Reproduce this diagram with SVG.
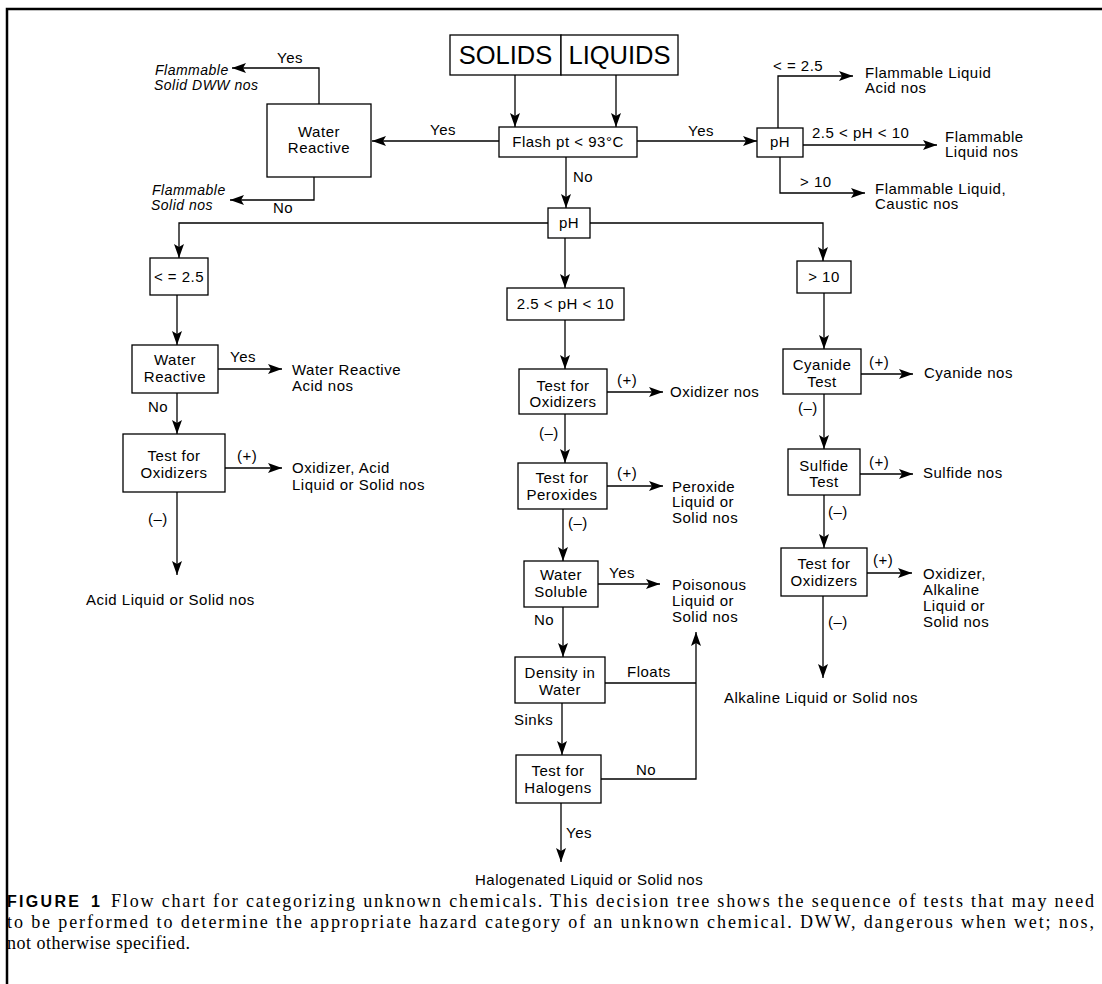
<svg xmlns="http://www.w3.org/2000/svg" width="1102" height="984" viewBox="0 0 1102 984">
<style>
.box{fill:#fff;stroke:#000;stroke-width:1.3}
.t{font-family:"Liberation Sans",Arial,sans-serif;font-size:15px;letter-spacing:0.5px;fill:#000}
.c{text-anchor:middle}
.it{font-style:italic;font-size:14px}
.big{font-size:25.5px;letter-spacing:0}
.ln{fill:none;stroke:#000;stroke-width:1.3}
.cap{font-family:"Liberation Serif","Times New Roman",serif;font-size:18px;fill:#000}
.fig{font-family:"Liberation Sans",Arial,sans-serif;font-weight:bold;font-size:16px;fill:#000}
</style>
<defs>
<marker id="ah" markerUnits="userSpaceOnUse" markerWidth="15" markerHeight="11" refX="14" refY="5" orient="auto">
<path d="M0,0 L14,5 L0,10 L3,5 z" fill="#000"/>
</marker>
</defs>
<rect width="1102" height="984" fill="#fff"/>
<path d="M7,984 V9 H1102" fill="none" stroke="#000" stroke-width="2.5"/>

<g id="connectors">
<path class="ln" d="M515,75 V127" marker-end="url(#ah)"/>
<path class="ln" d="M616,75 V127" marker-end="url(#ah)"/>
<path class="ln" d="M499,141 H372" marker-end="url(#ah)"/>
<path class="ln" d="M319,104 V68 H232" marker-end="url(#ah)"/>
<path class="ln" d="M314,177 V200 H230" marker-end="url(#ah)"/>
<path class="ln" d="M637,141 H757" marker-end="url(#ah)"/>
<path class="ln" d="M778,128 V76 H853" marker-end="url(#ah)"/>
<path class="ln" d="M803,145 H937" marker-end="url(#ah)"/>
<path class="ln" d="M780,157 V193 H865" marker-end="url(#ah)"/>
<path class="ln" d="M566,157 V208" marker-end="url(#ah)"/>
<path class="ln" d="M548,223 H179 V258" marker-end="url(#ah)"/>
<path class="ln" d="M590,223 H823 V261" marker-end="url(#ah)"/>
<path class="ln" d="M565,238 V288" marker-end="url(#ah)"/>
<path class="ln" d="M177,295 V345" marker-end="url(#ah)"/>
<path class="ln" d="M218,369 H282" marker-end="url(#ah)"/>
<path class="ln" d="M177,393 V434" marker-end="url(#ah)"/>
<path class="ln" d="M225,468 H282" marker-end="url(#ah)"/>
<path class="ln" d="M177,492 V575" marker-end="url(#ah)"/>
<path class="ln" d="M565,320 V369" marker-end="url(#ah)"/>
<path class="ln" d="M607,392 H663" marker-end="url(#ah)"/>
<path class="ln" d="M565,414 V463" marker-end="url(#ah)"/>
<path class="ln" d="M607,486 H663" marker-end="url(#ah)"/>
<path class="ln" d="M563,509 V561" marker-end="url(#ah)"/>
<path class="ln" d="M598,584 H660" marker-end="url(#ah)"/>
<path class="ln" d="M563,607 V657" marker-end="url(#ah)"/>
<path class="ln" d="M605,683 H696"/>
<path class="ln" d="M601,779 H696 V632" marker-end="url(#ah)"/>
<path class="ln" d="M562,703 V755" marker-end="url(#ah)"/>
<path class="ln" d="M561,803 V862" marker-end="url(#ah)"/>
<path class="ln" d="M824,293 V349" marker-end="url(#ah)"/>
<path class="ln" d="M861,374 H913" marker-end="url(#ah)"/>
<path class="ln" d="M824,394 V449" marker-end="url(#ah)"/>
<path class="ln" d="M860,474 H913" marker-end="url(#ah)"/>
<path class="ln" d="M824,495 V548" marker-end="url(#ah)"/>
<path class="ln" d="M867,573 H912" marker-end="url(#ah)"/>
<path class="ln" d="M823,596 V678" marker-end="url(#ah)"/>
<g class="t">
<text x="430" y="135">Yes</text>
<text x="277" y="63">Yes</text>
<text x="273" y="213">No</text>
<text x="688" y="136">Yes</text>
<text x="773" y="71">&lt; = 2.5</text>
<text x="812" y="138">2.5 &lt; pH &lt; 10</text>
<text x="800" y="187">&gt; 10</text>
<text x="573" y="182">No</text>
<text x="230" y="362">Yes</text>
<text x="148" y="412">No</text>
<text x="237" y="461">(+)</text>
<text x="148" y="524">(–)</text>
<text x="617" y="385">(+)</text>
<text x="539" y="438">(–)</text>
<text x="617" y="478">(+)</text>
<text x="568" y="528">(–)</text>
<text x="609" y="578">Yes</text>
<text x="534" y="625">No</text>
<text x="627" y="677">Floats</text>
<text x="636" y="775">No</text>
<text x="514" y="725">Sinks</text>
<text x="566" y="838">Yes</text>
<text x="869" y="367">(+)</text>
<text x="798" y="413">(–)</text>
<text x="869" y="467">(+)</text>
<text x="828" y="517">(–)</text>
<text x="873" y="565">(+)</text>
<text x="828" y="627">(–)</text>
</g>
</g>

<g id="solids"><rect class="box" x="450" y="35" width="111" height="40"/><text class="t big c" x="505.5" y="64">SOLIDS</text></g>
<g id="liquids"><rect class="box" x="561" y="35" width="117" height="40"/><text class="t big c" x="619.5" y="64">LIQUIDS</text></g>
<g id="flash"><rect class="box" x="499" y="127" width="138" height="30"/><text class="t c" x="568" y="147">Flash pt &lt; 93°C</text></g>
<g id="water-reactive-top"><rect class="box" x="267" y="104" width="104" height="73"/><text class="t c" x="319" y="137">Water</text><text class="t c" x="319" y="153">Reactive</text></g>
<g id="ph-top"><rect class="box" x="757" y="128" width="46" height="29"/><text class="t c" x="780" y="147">pH</text></g>
<g id="ph-mid"><rect class="box" x="548" y="208" width="42" height="30"/><text class="t c" x="569" y="228">pH</text></g>
<g id="le25"><rect class="box" x="150" y="258" width="58" height="37"/><text class="t c" x="179" y="282">&lt; = 2.5</text></g>
<g id="mid-range"><rect class="box" x="507" y="288" width="117" height="32"/><text class="t c" x="565.5" y="309">2.5 &lt; pH &lt; 10</text></g>
<g id="gt10"><rect class="box" x="797" y="261" width="54" height="32"/><text class="t c" x="824" y="282">&gt; 10</text></g>
<g id="water-reactive-left"><rect class="box" x="132" y="345" width="86" height="48"/><text class="t c" x="175" y="365">Water</text><text class="t c" x="175" y="382">Reactive</text></g>
<g id="oxidizers-left"><rect class="box" x="123" y="434" width="102" height="58"/><text class="t c" x="174" y="461">Test for</text><text class="t c" x="174" y="478">Oxidizers</text></g>
<g id="oxidizers-mid"><rect class="box" x="519" y="369" width="88" height="45"/><text class="t c" x="563" y="391">Test for</text><text class="t c" x="563" y="407">Oxidizers</text></g>
<g id="peroxides"><rect class="box" x="518" y="463" width="89" height="46"/><text class="t c" x="562" y="483">Test for</text><text class="t c" x="562" y="500">Peroxides</text></g>
<g id="water-soluble"><rect class="box" x="524" y="561" width="74" height="46"/><text class="t c" x="561" y="580">Water</text><text class="t c" x="561" y="597">Soluble</text></g>
<g id="density"><rect class="box" x="515" y="657" width="90" height="46"/><text class="t c" x="560" y="678">Density in</text><text class="t c" x="560" y="695">Water</text></g>
<g id="halogens"><rect class="box" x="516" y="755" width="85" height="48"/><text class="t c" x="558" y="776">Test for</text><text class="t c" x="558" y="793">Halogens</text></g>
<g id="cyanide"><rect class="box" x="783" y="349" width="78" height="45"/><text class="t c" x="822" y="370">Cyanide</text><text class="t c" x="822" y="387">Test</text></g>
<g id="sulfide"><rect class="box" x="788" y="449" width="72" height="46"/><text class="t c" x="824" y="471">Sulfide</text><text class="t c" x="824" y="487">Test</text></g>
<g id="oxidizers-right"><rect class="box" x="781" y="548" width="86" height="48"/><text class="t c" x="824" y="569">Test for</text><text class="t c" x="824" y="586">Oxidizers</text></g>

<g id="out-flam-solid-dww"><text class="t it" x="155" y="75">Flammable</text><text class="t it" x="154" y="90">Solid DWW nos</text></g>
<g id="out-flam-solid"><text class="t it" x="152" y="195">Flammable</text><text class="t it" x="151" y="210">Solid nos</text></g>
<g id="out-flam-liq-acid"><text class="t" x="865" y="78">Flammable Liquid</text><text class="t" x="865" y="93">Acid nos</text></g>
<g id="out-flam-liq"><text class="t" x="945" y="142">Flammable</text><text class="t" x="945" y="157">Liquid nos</text></g>
<g id="out-flam-liq-caustic"><text class="t" x="875" y="194">Flammable Liquid,</text><text class="t" x="875" y="209">Caustic nos</text></g>
<g id="out-wr-acid"><text class="t" x="292" y="375">Water Reactive</text><text class="t" x="292" y="391">Acid nos</text></g>
<g id="out-ox-acid"><text class="t" x="292" y="473">Oxidizer, Acid</text><text class="t" x="292" y="490">Liquid or Solid nos</text></g>
<g id="out-acid"><text class="t" x="86" y="605">Acid Liquid or Solid nos</text></g>
<g id="out-oxidizer"><text class="t" x="670" y="397">Oxidizer nos</text></g>
<g id="out-peroxide"><text class="t" x="672" y="492">Peroxide</text><text class="t" x="672" y="507">Liquid or</text><text class="t" x="672" y="523">Solid nos</text></g>
<g id="out-poison"><text class="t" x="672" y="590">Poisonous</text><text class="t" x="672" y="606">Liquid or</text><text class="t" x="672" y="622">Solid nos</text></g>
<g id="out-halogenated"><text class="t" x="475" y="885">Halogenated Liquid or Solid nos</text></g>
<g id="out-cyanide"><text class="t" x="924" y="378">Cyanide nos</text></g>
<g id="out-sulfide"><text class="t" x="923" y="478">Sulfide nos</text></g>
<g id="out-ox-alk"><text class="t" x="923" y="579">Oxidizer,</text><text class="t" x="923" y="595">Alkaline</text><text class="t" x="923" y="611">Liquid or</text><text class="t" x="923" y="627">Solid nos</text></g>
<g id="out-alkaline"><text class="t" x="724" y="703">Alkaline Liquid or Solid nos</text></g>

<g id="caption">
<text class="fig" x="7" y="907" textLength="72" lengthAdjust="spacing">FIGURE</text>
<text class="fig" x="91" y="907">1</text>
<text class="cap" x="111" y="907" textLength="983" lengthAdjust="spacing">Flow chart for categorizing unknown chemicals. This decision tree shows the sequence of tests that may need</text>
<text class="cap" x="7" y="928" textLength="1087" lengthAdjust="spacing">to be performed to determine the appropriate hazard category of an unknown chemical. DWW, dangerous when wet; nos,</text>
<text class="cap" x="7" y="949" textLength="183" lengthAdjust="spacing">not otherwise specified.</text>
</g>
</svg>
